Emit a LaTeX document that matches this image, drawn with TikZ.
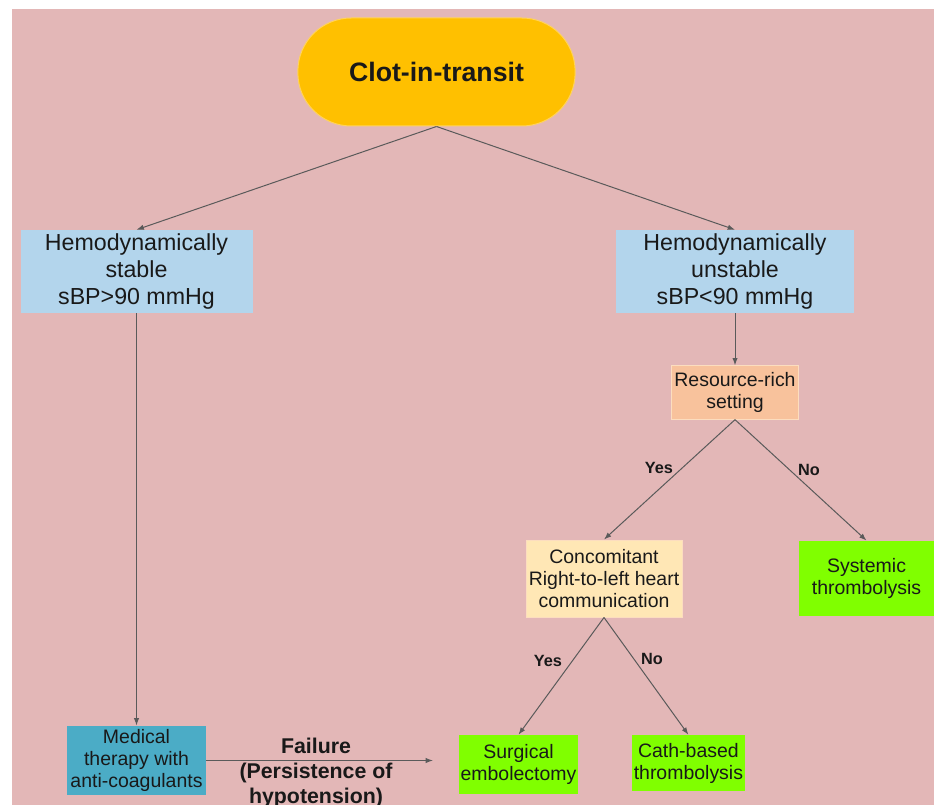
\documentclass[tikz,border=0pt]{standalone}
\usepackage{fontspec}
\setmainfont{Liberation Sans}
\usetikzlibrary{arrows.meta}
\definecolor{bgpink}{HTML}{E3B7B7}
\definecolor{clotamber}{HTML}{FFC000}
\definecolor{clotedge}{HTML}{FFD35C}
\definecolor{hemoblue}{HTML}{B3D5EC}
\definecolor{respeach}{HTML}{F8C29C}
\definecolor{resedge}{HTML}{FCDDBF}
\definecolor{conccream}{HTML}{FFE7B5}
\definecolor{medteal}{HTML}{4BACC6}
\definecolor{txgreen}{HTML}{80FF00}
\definecolor{linegray}{HTML}{5A5A5A}

\begin{document}
\begin{tikzpicture}[x=0.75pt,y=-0.75pt,>={Latex[length=5.5pt,width=4pt]},
 every node/.style={text=black!90,inner sep=0pt,align=center},
 box/.style={rectangle,font=\fontsize{14.6}{16.5}\selectfont},
 hemobox/.style={rectangle,fill=hemoblue,minimum height=62.25pt,font=\fontsize{17.4}{20}\selectfont},
 treatbox/.style={box,fill=txgreen},
 yesno/.style={font=\bfseries\fontsize{12.2}{14}\selectfont},
 link/.style={->,draw=linegray,line width=0.75pt}]
 \useasboundingbox (0,0) rectangle (934,805);
 \fill[white] (0,0) rectangle (934,805);
 \fill[bgpink] (12,9) rectangle (934,805);
 % boxes
 \node[fill=clotamber,draw=clotedge,line width=0.75pt,rounded corners=40pt,minimum width=208pt,minimum height=81pt,
   font=\bfseries\fontsize{20}{24}\selectfont] (clot) at (436.5,72) {Clot-in-transit};
 \node[hemobox,minimum width=174pt] (stab) at (136.5,271.5) {Hemodynamically\\stable\\sBP>90 mmHg};
 \node[hemobox,minimum width=178.5pt] (unst) at (735,271.5) {Hemodynamically\\unstable\\sBP<90 mmHg};
 \node[box,fill=respeach,draw=resedge,line width=0.75pt,minimum width=95.5pt,minimum height=40pt] (res) at (735,392.5) {Resource-rich\\setting};
 \node[box,fill=conccream,draw=resedge,line width=0.75pt,minimum width=117pt,minimum height=57.75pt] (conc) at (604,578.5) {Concomitant\\Right-to-left heart\\communication};
 \node[treatbox,minimum width=101.25pt,minimum height=56.5pt] (sys) at (866.5,578.5) {Systemic\\thrombolysis};
 \node[box,fill=medteal,minimum width=103.7pt,minimum height=52pt] (med) at (136.5,760.5) {Medical\\therapy with\\anti-coagulants};
 \node[treatbox,minimum width=88.8pt,minimum height=44.25pt] (surg) at (518.5,764.5) {Surgical\\embolectomy};
 \node[treatbox,minimum width=85pt,minimum height=42pt] (cath) at (688.4,763) {Cath-based\\thrombolysis};
 \coordinate (failend) at (433,760.5);
 % connectors
 \draw[link] (clot.south) -- (stab.north);
 \draw[link] (clot.south) -- (unst.north);
 \draw[link] (stab.south) -- (med.north);
 \draw[link] (unst.south) -- (res.north);
 \draw[link] (res.south) -- (conc.north);
 \draw[link] (res.south) -- (sys.north);
 \draw[link] (conc.south) -- (surg.north);
 \draw[link] (conc.south) -- (cath.north);
 \draw[link] (med.east) -- (failend);
 % labels
 \node[yesno] (resyes) at (659,468) {Yes};
 \node[yesno] (resno) at (809,470) {No};
 \node[yesno] (concyes) at (548,661) {Yes};
 \node[yesno] (concno) at (652,659) {No};
 \node[font=\bfseries\fontsize{16}{18.4}\selectfont] (fail) at (316,773) {Failure\\(Persistence of\\hypotension)};
\end{tikzpicture}
\end{document}
